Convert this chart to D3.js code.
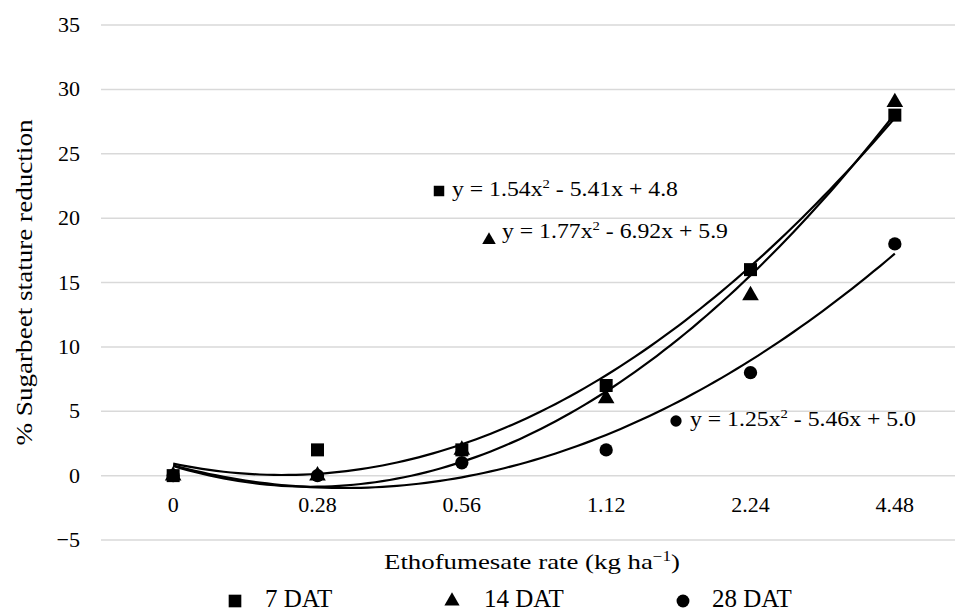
<!DOCTYPE html>
<html>
<head>
<meta charset="utf-8">
<script src="https://cdn.jsdelivr.net/npm/d3@7"></script>
<style>
  body { margin: 0; background: #fff; }
</style>
</head>
<body>
<div id="chart"></div>
<script>
// categories (x axis) and series values
var rates = ["0", "0.28", "0.56", "1.12", "2.24", "4.48"];
var dat7 = [0, 2, 2, 7, 16, 28];
var dat14 = [0, 0, 2, 6, 14, 29];
var dat28 = [0, 0, 1, 2, 8, 18];

// quadratic trendline coefficients [a, b, c] for y = a x^2 + b x + c, x = category index 1..6
var fit7 = [1.54, -5.41, 4.8];
var fit14 = [1.77, -6.92, 5.9];
var fit28 = [1.25, -5.46, 5.0];

var yTicks = [-5, 0, 5, 10, 15, 20, 25, 30, 35];

function draw_chart() {
    var width = 955, height = 614;
    var margin = {top: 25, right: -12, bottom: 74, left: 101};

    var svg = d3.select('#chart')
        .append('svg')
        .attr('width', width)
        .attr('height', height)
        .attr('font-family', '"Liberation Serif", "Times New Roman", Times, serif')
        .style('font-family', '"Liberation Serif", "Times New Roman", Times, serif');

    var x = d3.scaleBand()
        .domain(rates)
        .range([margin.left, width - margin.right])
        .padding(0);

    var y = d3.scaleLinear()
        .domain([-5, 35])
        .range([height - margin.bottom, margin.top]);

    // trendline x runs over the category index (1..6), like the spreadsheet does
    var xi = d3.scaleLinear()
        .domain([1, rates.length])
        .range([x(rates[0]) + x.bandwidth() / 2, x(rates[rates.length - 1]) + x.bandwidth() / 2]);

    // gridlines
    svg.append('g')
        .selectAll('line')
        .data(yTicks)
        .enter()
        .append('line')
        .attr('x1', margin.left)
        .attr('x2', width)
        .attr('y1', d => y(d))
        .attr('y2', d => y(d))
        .attr('stroke', '#d9d9d9')
        .attr('stroke-width', 1.5);

    // y tick labels
    svg.append('g')
        .selectAll('text')
        .data(yTicks)
        .enter()
        .append('text')
        .attr('x', 80)
        .attr('y', d => y(d) + 7)
        .attr('text-anchor', 'end')
        .style('font-size', '22px')
        .text(d => d < 0 ? '\u2212' + Math.abs(d) : d);

    // x tick labels
    svg.append('g')
        .selectAll('text')
        .data(rates)
        .enter()
        .append('text')
        .attr('x', d => x(d) + x.bandwidth() / 2)
        .attr('y', 512)
        .attr('text-anchor', 'middle')
        .style('font-size', '22px')
        .text(d => d);

    // axis titles
    svg.append('text')
        .attr('transform', 'translate(32,' + ((y(35) + y(-5)) / 2) + ') rotate(-90)')
        .attr('text-anchor', 'middle')
        .attr('textLength', 326)
        .attr('lengthAdjust', 'spacingAndGlyphs')
        .style('font-size', '23px')
        .text('% Sugarbeet stature reduction');

    var xTitle = svg.append('text')
        .attr('x', 384)
        .attr('y', 569)
        .attr('textLength', 296)
        .attr('lengthAdjust', 'spacingAndGlyphs')
        .style('font-size', '22px');
    xTitle.append('tspan').text('Ethofumesate rate (kg ha');
    xTitle.append('tspan').attr('dy', -8).style('font-size', '14px').text('\u22121');
    xTitle.append('tspan').attr('dy', 8).text(')');

    // markers
    var symSquare = d3.symbol().type(d3.symbolSquare).size(169);
    var symTriangle = d3.symbol().type(d3.symbolTriangle).size(120);
    var symCircle = d3.symbol().type(d3.symbolCircle).size(140);

    var series = [
        {name: '14 DAT', values: dat14, fit: fit14, sym: symTriangle},
        {name: '28 DAT', values: dat28, fit: fit28, sym: symCircle},
        {name: '7 DAT', values: dat7, fit: fit7, sym: symSquare}
    ];

    var line = d3.line()
        .x(d => xi(d[0]))
        .y(d => y(d[1]))
        .curve(d3.curveLinear);

    series.forEach(function(s) {
        svg.append('g')
            .selectAll('path')
            .data(s.values)
            .enter()
            .append('path')
            .attr('d', s.sym)
            .attr('transform', (d, i) => 'translate(' + (x(rates[i]) + x.bandwidth() / 2) + ',' + y(d) + ')')
            .attr('fill', '#000');
    });

    series.forEach(function(s) {
        var pts = d3.range(1, rates.length + 0.001, 0.05).map(function(t) {
            return [t, s.fit[0] * t * t + s.fit[1] * t + s.fit[2]];
        });
        svg.append('path')
            .datum(pts)
            .attr('d', line)
            .attr('fill', 'none')
            .attr('stroke', '#000')
            .attr('stroke-width', 2.2);
    });

    // equation labels
    var eqs = [
        {fit: fit7, sym: d3.symbol().type(d3.symbolSquare).size(110), mx: 439, my: 191, tx: 452, ty: 196},
        {fit: fit14, sym: d3.symbol().type(d3.symbolTriangle).size(80), mx: 489, my: 240, tx: 502, ty: 238},
        {fit: fit28, sym: d3.symbol().type(d3.symbolCircle).size(100), mx: 676, my: 421, tx: 690, ty: 426}
    ];

    eqs.forEach(function(e) {
        svg.append('path')
            .attr('d', e.sym)
            .attr('transform', 'translate(' + e.mx + ',' + e.my + ')')
            .attr('fill', '#000');
        var t = svg.append('text')
            .attr('x', e.tx)
            .attr('y', e.ty)
            .attr('textLength', 226)
            .attr('lengthAdjust', 'spacingAndGlyphs')
            .style('font-size', '21px');
        t.append('tspan').text('y = ' + e.fit[0].toFixed(2) + 'x');
        t.append('tspan').attr('dy', -8).style('font-size', '13px').text('2');
        t.append('tspan').attr('dy', 8)
            .text(' - ' + Math.abs(e.fit[1]).toFixed(2) + 'x + ' + e.fit[2].toFixed(1));
    });

    // legend
    var legend = [
        {name: '7 DAT', sym: d3.symbol().type(d3.symbolSquare).size(160), mx: 235, tx: 265},
        {name: '14 DAT', sym: d3.symbol().type(d3.symbolTriangle).size(100), mx: 452, tx: 484},
        {name: '28 DAT', sym: d3.symbol().type(d3.symbolCircle).size(130), mx: 683, tx: 712}
    ];

    var lg = svg.append('g');
    lg.selectAll('path')
        .data(legend)
        .enter()
        .append('path')
        .attr('d', d => d.sym())
        .attr('transform', d => 'translate(' + d.mx + ',601)')
        .attr('fill', '#000');
    lg.selectAll('text')
        .data(legend)
        .enter()
        .append('text')
        .attr('x', d => d.tx)
        .attr('y', 607)
        .style('font-size', '25px')
        .text(d => d.name);
}

document.addEventListener('DOMContentLoaded', draw_chart);
</script>
</body>
</html>
